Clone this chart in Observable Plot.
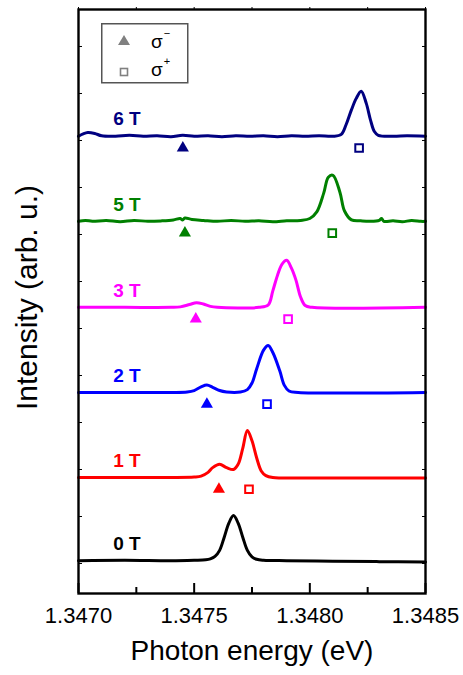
<!DOCTYPE html>
<html><head><meta charset="utf-8">
<script src="https://cdn.jsdelivr.net/npm/d3@7"></script>
<script src="https://cdn.jsdelivr.net/npm/@observablehq/plot@0.6"></script>
<style>
body{margin:0;background:#fff;}
#wrap{position:relative;width:463px;height:675px;font-family:"Liberation Sans",Arial,sans-serif;}
#legend{position:absolute;left:101px;top:23px;}
</style></head><body><div id="wrap"></div>
<script>
// Magnetic fields and per-trace vertical offsets (arb. u.)
const fields = ["0 T", "1 T", "2 T", "3 T", "5 T", "6 T"];
const offsets = [1.06, 2.83, 4.64, 6.45, 8.28, 10.09];
const colors = ["#000000", "#ff0000", "#0000ff", "#ff00ff", "#008000", "#000080"];

// Spectra: [photon energy (eV), intensity (arb. u.)]
const spec0T = [[1.34700,0],[1.34720,0.01],[1.34740,0],[1.34750,0.01],[1.34755,0.02],[1.34757,0.04],[1.34759,0.09],[1.34761,0.22],[1.34763,0.50],[1.34765,0.80],[1.34767,0.96],[1.34769,0.80],[1.34771,0.50],[1.34773,0.22],[1.34775,0.08],[1.34777,0.03],[1.34780,0.01],[1.34790,0],[1.34810,-0.01],[1.34830,-0.02],[1.34850,-0.03]];
const spec1T = [[1.34700,0],[1.34720,0],[1.34740,0],[1.34750,0.01],[1.34753,0.03],[1.34756,0.11],[1.34758,0.21],[1.34761,0.28],[1.34764,0.21],[1.34767,0.17],[1.34769,0.28],[1.34771,0.62],[1.34773,1.0],[1.34775,0.78],[1.34777,0.42],[1.34779,0.14],[1.34781,0.04],[1.34784,0.0],[1.34800,-0.01],[1.34850,-0.01]];
const spec2T = [[1.34700,0],[1.34720,0],[1.34740,0],[1.34747,0.01],[1.34750,0.04],[1.34753,0.12],[1.347555,0.16],[1.34758,0.11],[1.34761,0.04],[1.34764,0.01],[1.34770,0.01],[1.34773,0.06],[1.34775,0.20],[1.34777,0.50],[1.34780,0.90],[1.34782,1.0],[1.34784,0.85],[1.34787,0.46],[1.34789,0.15],[1.34791,0.03],[1.34795,0],[1.34850,0]];
const spec3T = [[1.34700,0],[1.34720,0],[1.34740,0],[1.34744,0.01],[1.34748,0.06],[1.34751,0.10],[1.34754,0.07],[1.34757,0.02],[1.34760,0],[1.34778,0],[1.34782,0.05],[1.34784,0.35],[1.34786,0.68],[1.34788,0.92],[1.34790,1.0],[1.34792,0.84],[1.34794,0.58],[1.34796,0.22],[1.34798,0.04],[1.34801,0],[1.34850,0]];
const spec5T = [[1.34700,0],[1.34703,0.02],[1.34706,0],[1.34712,0.02],[1.34718,-0.01],[1.34724,0.02],[1.34730,0],[1.34736,0.01],[1.34741,0.03],[1.34744,0.06],[1.34745,0.03],[1.34746,0.07],[1.34749,0.04],[1.34754,0.02],[1.34760,0],[1.34766,0.02],[1.34772,0],[1.34778,0.01],[1.34784,-0.01],[1.34790,0.01],[1.34796,0.02],[1.34800,0.06],[1.34803,0.20],[1.34806,0.60],[1.34808,0.94],[1.34810,0.98],[1.34813,0.62],[1.34815,0.22],[1.34818,0.03],[1.34822,0.01],[1.34826,0],[1.34830,0.02],[1.34831,0.06],[1.34832,0],[1.34836,0.01],[1.34840,-0.01],[1.34844,0.02],[1.34848,0],[1.34850,0]];
const spec6T = [[1.34700,0],[1.34702,0.05],[1.34704,0.08],[1.34707,0.06],[1.34710,0.01],[1.34716,0],[1.34722,0.02],[1.34728,0],[1.34734,0.01],[1.34740,-0.01],[1.34745,0.02],[1.34750,0],[1.34756,0.01],[1.34762,-0.01],[1.34768,0.01],[1.34774,0],[1.34780,0.01],[1.34786,-0.01],[1.34792,0.01],[1.34798,0],[1.34804,0.01],[1.34810,0],[1.348136,0.04],[1.348157,0.25],[1.348179,0.55],[1.34820,0.80],[1.348222,0.96],[1.348244,0.70],[1.348262,0.35],[1.348279,0.10],[1.348296,0.02],[1.34836,0],[1.34842,0.01],[1.34850,0]];
const spectra = [spec0T, spec1T, spec2T, spec3T, spec5T, spec6T];

// Peak positions marked under each trace (eV)
const sigmaMinus = [null, 1.347607, 1.347555, 1.347507, 1.347460, 1.347451];
const sigmaPlus  = [null, 1.347737, 1.347815, 1.347906, 1.348097, 1.348213];

// Axis ticks
const xTicksMajor = [1.3470, 1.3475, 1.3480, 1.3485];
const xTicksMinor = [1.34725, 1.34775, 1.34825];
const yTicks = [1, 2, 3, 4, 5, 6, 7, 8, 9, 10, 11, 12];

const markerGap = 0.25;
const labelLift = 0.36;

const lineMarks = spectra.map((s, i) => {
  const pts = s.slice().sort((a, b) => a[0] - b[0]).map(p => ({E: p[0], y: offsets[i] + p[1]}));
  return Plot.line(pts, {x: "E", y: "y", stroke: colors[i], strokeWidth: 3, curve: "catmull-rom"});
});

const markRows = [];
fields.forEach((f, i) => {
  if (sigmaMinus[i] != null) markRows.push({E: sigmaMinus[i], y: offsets[i] - markerGap, kind: "minus", c: colors[i]});
  if (sigmaPlus[i] != null) markRows.push({E: sigmaPlus[i], y: offsets[i] - markerGap, kind: "plus", c: colors[i]});
});
const labelRows = fields.map((f, i) => ({f, E: 1.34715, y: offsets[i] + labelLift, c: colors[i]}));

const chart = Plot.plot({
  width: 463, height: 675,
  marginTop: 9, marginLeft: 78, marginRight: 38, marginBottom: 82,
  style: {fontFamily: "'Liberation Sans', Arial, sans-serif", color: "#000", background: "#fff"},
  x: {domain: [1.3470, 1.3485]},
  y: {domain: [0.362, 12.787]},
  marks: [
    ...lineMarks,
    Plot.dot(markRows.filter(d => d.kind === "minus"), {x: "E", y: "y", symbol: "triangle", r: 4.5, fill: d => d.c, stroke: null}),
    Plot.dot(markRows.filter(d => d.kind === "plus"), {x: "E", y: "y", symbol: "square", r: 4.3, fill: "none", stroke: d => d.c, strokeWidth: 2}),
    Plot.text(labelRows, {x: "E", y: "y", text: "f", fill: d => d.c, textAnchor: "start", fontWeight: "bold", fontSize: 19}),
    Plot.axisX(xTicksMajor, {anchor: "bottom", tickSize: -10, tickFormat: () => "", label: null, strokeWidth: 2}),
    Plot.axisX(xTicksMinor, {anchor: "bottom", tickSize: -6, tickFormat: () => "", label: null, strokeWidth: 2}),
    Plot.axisX(xTicksMajor, {anchor: "bottom", tickSize: 0, tickPadding: 14, tickFormat: d3.format(".4f"), fontSize: 22, label: null}),
    Plot.axisX([...xTicksMajor, ...xTicksMinor], {anchor: "top", tickSize: 3, tickFormat: () => "", label: null}),
    Plot.axisY(yTicks, {anchor: "left", tickSize: -4, tickFormat: () => "", label: null}),
    Plot.axisY(yTicks, {anchor: "right", tickSize: -4, tickFormat: () => "", label: null}),
    Plot.frame({stroke: "#000", strokeWidth: 2.4}),
    Plot.text(["Photon energy (eV)"], {text: d => d, frameAnchor: "bottom", dy: 66, fontSize: 28}),
    Plot.text(["Intensity (arb. u.)"], {text: d => d, frameAnchor: "left", textAnchor: "middle", dx: -51, dy: -4, rotate: -90, fontSize: 30})
  ]
});
const wrap = document.getElementById("wrap");
wrap.appendChild(chart);

// Legend (inside the frame, upper left)
const leg = document.createElement("div");
leg.id = "legend";
leg.innerHTML = `<svg width="90" height="62" xmlns="http://www.w3.org/2000/svg">
  <rect x="0.75" y="0.75" width="86" height="59" fill="#fff" stroke="#555" stroke-width="1.5"/>
  <path d="M23,12 L29,22 L17,22 Z" fill="#808080"/>
  <rect x="19.5" y="45.5" width="7" height="7" fill="none" stroke="#808080" stroke-width="1.6"/>
  <text x="50" y="25" font-size="19" font-family="'Liberation Sans', Arial, sans-serif">σ<tspan dx="1" dy="-11" font-size="11">−</tspan></text>
  <text x="50" y="53" font-size="19" font-family="'Liberation Sans', Arial, sans-serif">σ<tspan dx="1" dy="-11" font-size="11">+</tspan></text>
</svg>`;
wrap.appendChild(leg);
</script></body></html>
